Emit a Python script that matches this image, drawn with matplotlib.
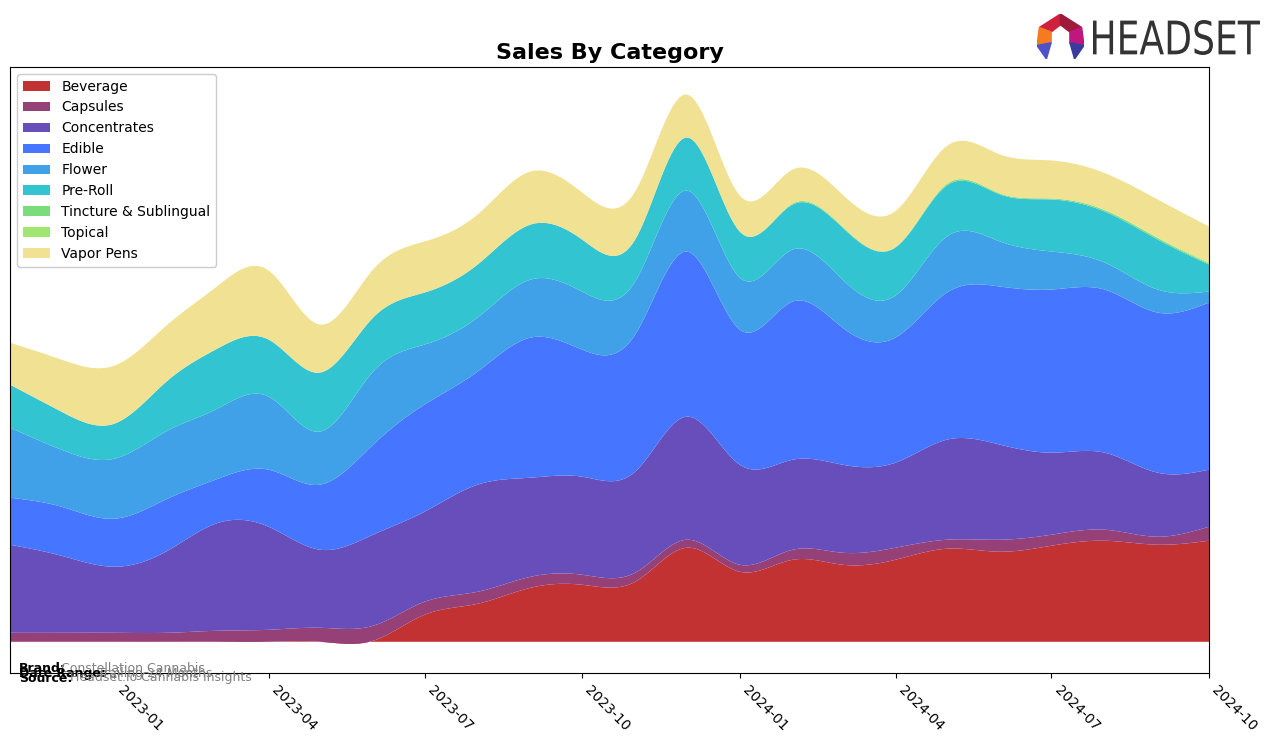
import numpy as np
import pandas as pd
import matplotlib
matplotlib.use("Agg")
import matplotlib.pyplot as plt
import matplotlib.dates as mdates
from matplotlib.patches import Polygon, PathPatch
from matplotlib.textpath import TextPath
from matplotlib.font_manager import FontProperties
from matplotlib.transforms import Affine2D

# monthly sales by category (arbitrary units)
months = pd.date_range("2022-11-01", "2024-10-01", freq="MS")

categories = ["Beverage", "Capsules", "Concentrates", "Edible", "Flower",
              "Pre-Roll", "Tincture & Sublingual", "Topical", "Vapor Pens"]

beverage = [0, 0, 0, 0, 0, 0, 0, 1, 27, 38, 54, 57, 60, 94, 70, 82, 77, 82, 93, 90, 96, 101, 97, 101]
capsules = [9, 9, 9, 9, 11, 12, 14, 15, 13, 12, 11, 10, 9, 8, 7, 10, 12, 12, 9, 12, 11, 11, 8, 14]
concentrates = [88, 77, 66, 82, 107, 103, 78, 91, 90, 107, 99, 98, 101, 123, 100, 90, 88, 85, 100, 95, 82, 77, 64, 57]
edible = [47, 49, 48, 52, 44, 57, 65, 90, 107, 113, 140, 127, 137, 165, 135, 158, 137, 125, 147, 158, 163, 163, 160, 167]
flower = [70, 57, 60, 68, 70, 73, 53, 73, 60, 54, 58, 58, 53, 61, 52, 52, 48, 42, 56, 45, 38, 27, 23, 11]
pre_roll = [43, 38, 35, 50, 60, 57, 59, 54, 52, 53, 55, 52, 42, 53, 46, 45, 52, 48, 51, 47, 52, 51, 50, 27]
tincture = [0, 0, 0, 0, 0, 0, 0, 0, 0, 0, 0, 0, 0, 0, 0, 1, 1, 0.5, 1.5, 1, 1, 1.5, 1.5, 1]
topical = [0, 0, 0, 0, 0, 0, 0, 0, 0, 0, 0, 0, 0, 0, 0, 0, 0, 0, 0, 0, 0, 0, 0.5, 1]
vapor_pens = [42, 52, 58, 56, 62, 69, 48, 48, 51, 50, 53, 47, 48, 43, 36, 34, 32, 36, 38, 39, 38, 37, 38, 36]

series = [beverage, capsules, concentrates, edible, flower, pre_roll, tincture, topical, vapor_pens]
colors = ["#c23232", "#964078", "#684eba", "#4675ff", "#40a0e8",
          "#33c4d2", "#7cdc7c", "#a0e670", "#f0e292"]


def natural_spline(x, y, xs):
    # plain natural cubic spline, only used to draw smooth edges
    n = len(x)
    h = np.diff(x)
    A = np.zeros((n, n))
    b = np.zeros(n)
    A[0, 0] = 1
    A[-1, -1] = 1
    for i in range(1, n - 1):
        A[i, i - 1] = h[i - 1]
        A[i, i] = 2 * (h[i - 1] + h[i])
        A[i, i + 1] = h[i]
        b[i] = 3 * ((y[i + 1] - y[i]) / h[i] - (y[i] - y[i - 1]) / h[i - 1])
    c = np.linalg.solve(A, b)
    a = y[:-1]
    bb = (y[1:] - y[:-1]) / h - h * (2 * c[:-1] + c[1:]) / 3
    d = (c[1:] - c[:-1]) / (3 * h)
    idx = np.clip(np.searchsorted(x, xs) - 1, 0, n - 2)
    dx = xs - x[idx]
    return a[idx] + bb[idx] * dx + c[idx] * dx ** 2 + d[idx] * dx ** 3


xnum = mdates.date2num(months.to_pydatetime())
xs = np.linspace(xnum[0], xnum[-1], 400)
smooth = [natural_spline(xnum, np.array(s, dtype=float), xs) for s in series]

fig = plt.figure(figsize=(12.76, 7.43), dpi=100)
ax = fig.add_axes([10 / 1276, 1 - 673 / 743, 1199 / 1276, 606 / 743])

ax.stackplot(xs, smooth, labels=categories, colors=colors, linewidth=0)

total = np.sum(smooth, axis=0)
ax.set_xlim(xnum[0], xnum[-1])
ax.set_ylim(-0.057 * total.max(), 1.05 * total.max())
ax.set_yticks([])

ticks = pd.date_range("2023-01-01", "2024-10-01", freq="3MS")
ax.set_xticks(mdates.date2num(ticks.to_pydatetime()))
ax.set_xticklabels([t.strftime("%Y-%m") for t in ticks], rotation=-45,
                   ha="left", fontsize=10)

ax.legend(loc="upper left", fontsize=10, framealpha=1)

fig.text(609.5 / 1276, 1 - 53 / 743, "Sales By Category", ha="center",
         va="center", fontsize=16, fontweight="bold")

# footer (overlapping, like the original)
fig.text(19 / 1276, 1 - 668 / 743, "Brand:", fontsize=9, fontweight="bold", va="center")
fig.text(61 / 1276, 1 - 668 / 743, "Constellation Cannabis", fontsize=9, color="gray", va="center")
fig.text(19 / 1276, 1 - 673 / 743, "Date Range:", fontsize=9, fontweight="bold", va="center")
fig.text(98 / 1276, 1 - 673 / 743, "Trailing 24 Months", fontsize=9, color="gray", va="center")
fig.text(19 / 1276, 1 - 678 / 743, "Source:", fontsize=9, fontweight="bold", va="center")
fig.text(70 / 1276, 1 - 678 / 743, "Headset.io Cannabis Insights", fontsize=9, color="gray", va="center")

# logo
lax = fig.add_axes([1037 / 1276, 1 - 59 / 743, 47 / 1276, 45 / 743])
lax.set_xlim(0, 1)
lax.set_ylim(0, 1)
lax.axis("off")
pieces = [
    ([(0.05, 0.7), (0.5, 1.0), (0.5, 0.76), (0.3, 0.6)], "#d0213c"),
    ([(0.5, 1.0), (0.95, 0.7), (0.7, 0.6), (0.5, 0.76)], "#9e1a3a"),
    ([(0.05, 0.7), (0.3, 0.6), (0.3, 0.36), (0.0, 0.3)], "#f47b20"),
    ([(0.95, 0.7), (1.0, 0.3), (0.7, 0.36), (0.7, 0.6)], "#c0177f"),
    ([(0.0, 0.3), (0.3, 0.36), (0.2, 0.0)], "#5050c8"),
    ([(1.0, 0.3), (0.7, 0.36), (0.8, 0.0)], "#3b3b9e"),
]
for pts, c in pieces:
    lax.add_patch(Polygon(pts, closed=True, color=c))

# condensed wordmark: squeeze the text path to fit the logo box
tp = TextPath((0, 0), "HEADSET", size=1, prop=FontProperties(family="DejaVu Sans"))
ext = tp.get_extents()
sx = 167 / ext.width
sy = 35 / ext.height
trans = Affine2D().translate(-ext.x0, -ext.y0).scale(sx, sy).translate(1093, 743 - 55)
fig.add_artist(PathPatch(tp, transform=trans, color="#333333", lw=0))

fig.savefig("out.png", dpi=100)
